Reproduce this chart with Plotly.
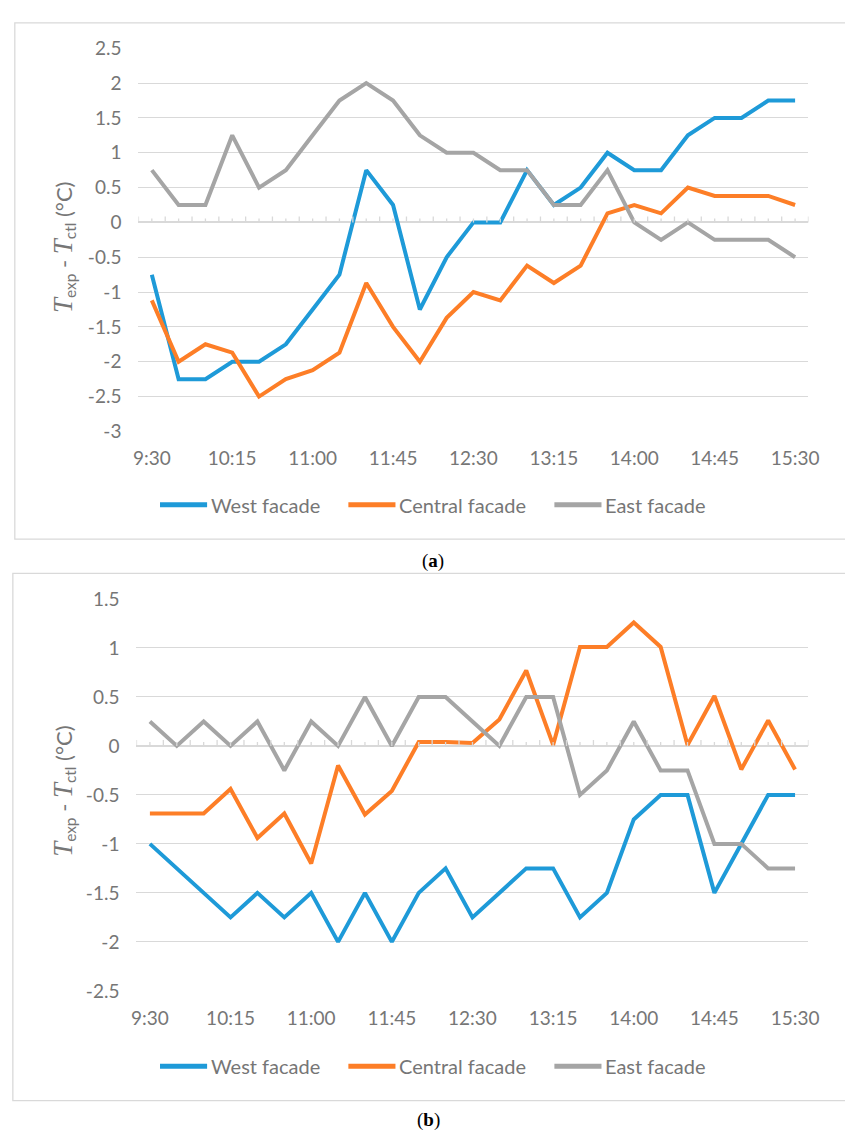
import plotly.graph_objects as go

times = ["9:30", "9:45", "10:00", "10:15", "10:30", "10:45", "11:00", "11:15", "11:30",
         "11:45", "12:00", "12:15", "12:30", "12:45", "13:00", "13:15", "13:30", "13:45",
         "14:00", "14:15", "14:30", "14:45", "15:00", "15:15", "15:30"]
tick_labels = ["9:30", "10:15", "11:00", "11:45", "12:30", "13:15", "14:00", "14:45", "15:30"]

# y tick values / labels (hyphen minus as in the original)
yticks_a = [2.5, 2, 1.5, 1, 0.5, 0, -0.5, -1, -1.5, -2, -2.5, -3]
ylabels_a = ["2.5", "2", "1.5", "1", "0.5", "0", "-0.5", "-1", "-1.5", "-2", "-2.5", "-3"]
yticks_b = [1.5, 1, 0.5, 0, -0.5, -1, -1.5, -2, -2.5]
ylabels_b = ["1.5", "1", "0.5", "0", "-0.5", "-1", "-1.5", "-2", "-2.5"]

# Panel (a)
west_a = [-0.75, -2.25, -2.25, -2.0, -2.0, -1.75, -1.25, -0.75, 0.75, 0.25, -1.25, -0.5, 0.0,
          0.0, 0.75, 0.25, 0.5, 1.0, 0.75, 0.75, 1.25, 1.5, 1.5, 1.75, 1.75]
central_a = [-1.12, -2.0, -1.75, -1.87, -2.5, -2.25, -2.12, -1.87, -0.87, -1.5, -2.0, -1.37, -1.0,
             -1.12, -0.62, -0.87, -0.62, 0.13, 0.25, 0.13, 0.5, 0.38, 0.38, 0.38, 0.25]
east_a = [0.75, 0.25, 0.25, 1.25, 0.5, 0.75, 1.25, 1.75, 2.0, 1.75, 1.25, 1.0, 1.0,
          0.75, 0.75, 0.25, 0.25, 0.75, 0.0, -0.25, 0.0, -0.25, -0.25, -0.25, -0.5]

# Panel (b)
west_b = [-1.0, -1.25, -1.5, -1.75, -1.5, -1.75, -1.5, -2.0, -1.5, -2.0, -1.5, -1.25, -1.75,
          -1.5, -1.25, -1.25, -1.75, -1.5, -0.75, -0.5, -0.5, -1.5, -1.0, -0.5, -0.5]
central_b = [-0.69, -0.69, -0.69, -0.44, -0.94, -0.69, -1.2, -0.2, -0.7, -0.46, 0.04, 0.04, 0.03,
             0.27, 0.77, 0.01, 1.01, 1.01, 1.26, 1.01, 0.01, 0.51, -0.24, 0.26, -0.24]
east_b = [0.25, 0.0, 0.25, 0.0, 0.25, -0.25, 0.25, 0.0, 0.5, 0.0, 0.5, 0.5, 0.25,
          0.0, 0.5, 0.5, -0.5, -0.25, 0.25, -0.25, -0.25, -1.0, -1.0, -1.25, -1.25]

series_names = ["West facade", "Central facade", "East facade"]
colors = ["#1E9AD8", "#FD7E27", "#A5A5A5"]

W, H = 845, 1142
FONT = "Lato, Carlito, Calibri, sans-serif"
GRAY = "#767676"
GRID = "#D9D9D9"


def px_x(p):
    return p / W


def px_y(p):
    return 1 - p / H


fig = go.Figure()

panels = [
    dict(data=[west_a, central_a, east_a], xa="x", ya="y"),
    dict(data=[west_b, central_b, east_b], xa="x2", ya="y2"),
]
for pnl in panels:
    for name, vals, col in zip(series_names, pnl["data"], colors):
        fig.add_trace(go.Scatter(
            x=times, y=vals, name=name, mode="lines",
            line=dict(color=col, width=4),
            xaxis=pnl["xa"], yaxis=pnl["ya"], showlegend=False,
        ))

xcommon = dict(type="category", range=[-0.5, len(times) - 0.5], tickmode="array",
               tickvals=tick_labels, ticktext=tick_labels, showgrid=False, showline=False,
               zeroline=False, ticks="", tickfont=dict(family=FONT, size=19, color=GRAY),
               ticklabelstandoff=14)
ycommon = dict(tickmode="array", showgrid=True, gridcolor=GRID, gridwidth=1.3, zeroline=True,
               zerolinecolor=GRID, zerolinewidth=1.8, showline=False, ticks="",
               tickfont=dict(family=FONT, size=19, color=GRAY), ticklabelstandoff=16)

fig.update_layout(
    width=W, height=H, autosize=False,
    margin=dict(l=0, r=0, t=0, b=0),
    paper_bgcolor="white", plot_bgcolor="white",
    showlegend=False,
    xaxis=dict(domain=[px_x(136), px_x(819)], anchor="y", **xcommon),
    yaxis=dict(domain=[px_y(428), px_y(37)], anchor="x", range=[-3, 2.5],
               tickvals=yticks_a, ticktext=ylabels_a, **ycommon),
    xaxis2=dict(domain=[px_x(134), px_x(819)], anchor="y2", **xcommon),
    yaxis2=dict(domain=[px_y(999), px_y(599)], anchor="x2", range=[-2.5, 1.5],
                tickvals=yticks_b, ticktext=ylabels_b, **ycommon),
)

shapes = []
annotations = []
# frame boxes
shapes.append(dict(type="rect", xref="paper", yref="paper", x0=px_x(10), x1=px_x(860),
                   y0=px_y(538), y1=px_y(11), line=dict(color=GRID, width=1.3)))
shapes.append(dict(type="rect", xref="paper", yref="paper", x0=px_x(8), x1=px_x(860),
                   y0=px_y(1111), y1=px_y(573), line=dict(color=GRID, width=1.3)))
# small tick marks on the zero line
for xa, ya in (("x", "y"), ("x2", "y2")):
    for i in range(len(times) + 1):
        shapes.append(dict(type="line", xref=xa, yref=ya, x0=i - 0.5, x1=i - 0.5,
                           ysizemode="pixel", yanchor=0, y0=0, y1=6,
                           line=dict(color=GRID, width=1.3)))
    for i in range(len(times)):
        shapes.append(dict(type="line", xref=xa, yref=ya, x0=i, x1=i,
                           ysizemode="pixel", yanchor=0, y0=0, y1=4,
                           line=dict(color=GRID, width=1.3)))

# legends (line sample + label) under each panel
legend_x = [158, 350, 560]
for ly in (503, 1076):
    for name, col, lx in zip(series_names, colors, legend_x):
        shapes.append(dict(type="line", xref="paper", yref="paper",
                           x0=px_x(lx), x1=px_x(lx + 48), y0=px_y(ly), y1=px_y(ly),
                           line=dict(color=col, width=5)))
        annotations.append(dict(text=name, xref="paper", yref="paper", x=px_x(lx + 50),
                                y=px_y(ly), xanchor="left", yanchor="middle", showarrow=False,
                                font=dict(family=FONT, size=20, color=GRAY)))

TSPAN = '<span style="font-family:\'Liberation Serif\', serif; font-size:27px"><i>T</i></span>'
ytitle = f"{TSPAN}<sub>exp</sub> - {TSPAN}<sub>ctl</sub> (°C)"
for cy in (240, 795):
    annotations.append(dict(text=ytitle, xref="paper", yref="paper", x=px_x(60), y=px_y(cy),
                            xanchor="center", yanchor="middle", textangle=-90,
                            showarrow=False, font=dict(family=FONT, size=22, color=GRAY)))
annotations.append(dict(text="(<b>a</b>)", xref="paper", yref="paper", x=px_x(436),
                        y=px_y(560), xanchor="center", yanchor="middle", showarrow=False,
                        font=dict(family="'Liberation Serif', serif", size=19, color="black")))
annotations.append(dict(text="(<b>b</b>)", xref="paper", yref="paper", x=px_x(432),
                        y=px_y(1131), xanchor="center", yanchor="middle", showarrow=False,
                        font=dict(family="'Liberation Serif', serif", size=19, color="black")))

fig.update_layout(shapes=shapes, annotations=annotations)

fig.write_html("out.html", config={"displayModeBar": False},
               post_script="document.body.style.margin='0';document.body.style.overflow='hidden';")
